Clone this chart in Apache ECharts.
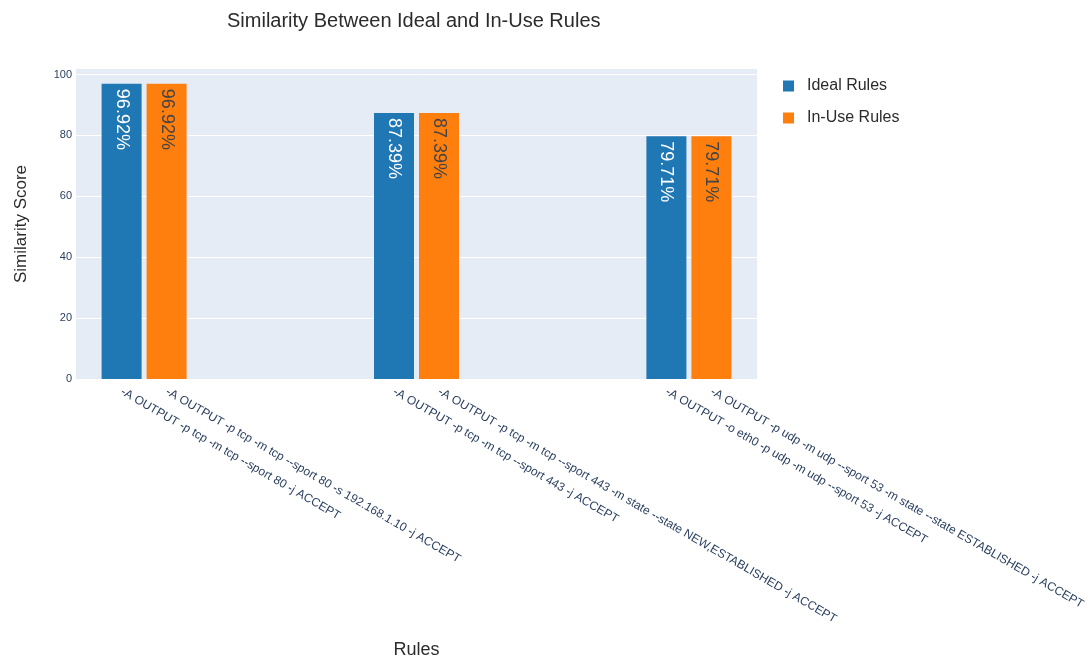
<!DOCTYPE html>
<html>
<head>
<meta charset="utf-8">
<script src="https://cdn.jsdelivr.net/npm/echarts@6/dist/echarts.min.js"></script>
<style>
  html, body { margin: 0; padding: 0; background: #fff; }
  #chart { width: 1088px; height: 660px; }
</style>
</head>
<body>
<div id="chart"></div>
<script>
// Rules compared, one pair per group
const idealRules = [
  '-A OUTPUT -p tcp -m tcp --sport 80 -j ACCEPT',
  '-A OUTPUT -p tcp -m tcp --sport 443 -j ACCEPT',
  '-A OUTPUT -o eth0 -p udp -m udp --sport 53 -j ACCEPT'
];
const inUseRules = [
  '-A OUTPUT -p tcp -m tcp --sport 80 -s 192.168.1.10 -j ACCEPT',
  '-A OUTPUT -p tcp -m tcp --sport 443 -m state --state NEW,ESTABLISHED -j ACCEPT',
  '-A OUTPUT -p udp -m udp --sport 53 -m state --state ESTABLISHED -j ACCEPT'
];
// Similarity scores (%)
const idealScores = [96.92, 87.39, 79.71];
const inUseScores = [96.92, 87.39, 79.71];
const yTicks = [0, 20, 40, 60, 80, 100];

const FONT = '"Liberation Sans", Arial, sans-serif';
const grid = { left: 76, right: 331, top: 69, bottom: 281 };
const xMin = -0.25, xMax = 2.25;
const barWidth = 40, barGapPx = 5;

// offset (in axis units) from a group's centre to each bar's centre
const gridWidth = 1088 - grid.left - grid.right;
const unitPx = gridWidth / (xMax - xMin);
const half = (barWidth + barGapPx) / 2 / unitPx;

const labelPositions = [];
idealRules.forEach((_, i) => { labelPositions.push(i - half, i + half); });

function tickText(v) {
  const i = Math.round(v);
  return v < i ? idealRules[i] : inUseRules[i];
}

const barLabel = (color) => ({
  show: true,
  position: 'insideTop',
  distance: 5,
  rotate: -90,
  align: 'left',
  verticalAlign: 'middle',
  color: color,
  fontFamily: FONT,
  fontSize: 18,
  formatter: (p) => p.value[1].toFixed(2) + '%'
});

const chart = echarts.init(document.getElementById('chart'), null, { renderer: 'canvas' });
chart.setOption({
  animation: false,
  backgroundColor: '#ffffff',
  textStyle: { fontFamily: FONT },
  title: {
    text: 'Similarity Between Ideal and In-Use Rules',
    left: 222,
    top: 6,
    textStyle: { fontFamily: FONT, fontSize: 20, fontWeight: 'normal', color: '#2b2b2b' }
  },
  legend: {
    orient: 'vertical',
    left: 778,
    top: 72,
    icon: 'rect',
    itemWidth: 11,
    itemHeight: 11,
    itemGap: 14,
    textStyle: { fontFamily: FONT, fontSize: 16, color: '#2b2b2b', lineHeight: 18, padding: [0, 0, 0, 8] },
    data: ['Ideal Rules', 'In-Use Rules']
  },
  grid: Object.assign({
    show: true,
    backgroundColor: '#e5ecf6',
    borderWidth: 0,
    containLabel: false,
    outerBoundsMode: 'none'
  }, grid),
  xAxis: {
    type: 'value',
    min: xMin,
    max: xMax,
    name: 'Rules',
    nameLocation: 'middle',
    nameGap: 262,
    nameTextStyle: { fontFamily: FONT, fontSize: 18, color: '#2b2b2b' },
    axisLine: { show: false },
    axisTick: { show: false },
    splitLine: { show: false },
    axisLabel: {
      customValues: labelPositions,
      formatter: tickText,
      rotate: -30,
      margin: 12,
      fontFamily: FONT,
      fontSize: 12,
      color: '#2a3f5f',
      hideOverlap: false
    }
  },
  yAxis: {
    type: 'value',
    min: 0,
    max: 101.8,
    interval: 20,
    name: 'Similarity Score',
    nameLocation: 'middle',
    nameGap: 46,
    nameRotate: 90,
    nameTextStyle: { fontFamily: FONT, fontSize: 17, color: '#2b2b2b' },
    axisLine: { show: false },
    axisTick: { show: false },
    splitLine: { show: true, showMaxLine: false, lineStyle: { color: '#ffffff', width: 1 } },
    axisLabel: {
      showMaxLabel: false,
      margin: 4,
      fontFamily: FONT,
      fontSize: 11,
      color: '#2a3f5f',
      formatter: (v) => (yTicks.indexOf(v) >= 0 ? String(v) : '')
    }
  },
  series: [
    {
      name: 'Ideal Rules',
      type: 'bar',
      barWidth: barWidth,
      barGap: (barGapPx / barWidth * 100) + '%',
      itemStyle: { color: '#1f77b4' },
      label: barLabel('#ffffff'),
      data: idealScores.map((v, i) => [i, v])
    },
    {
      name: 'In-Use Rules',
      type: 'bar',
      barWidth: barWidth,
      barGap: (barGapPx / barWidth * 100) + '%',
      itemStyle: { color: '#ff7f0e' },
      label: barLabel('#444444'),
      data: inUseScores.map((v, i) => [i, v])
    }
  ]
});
</script>
</body>
</html>
